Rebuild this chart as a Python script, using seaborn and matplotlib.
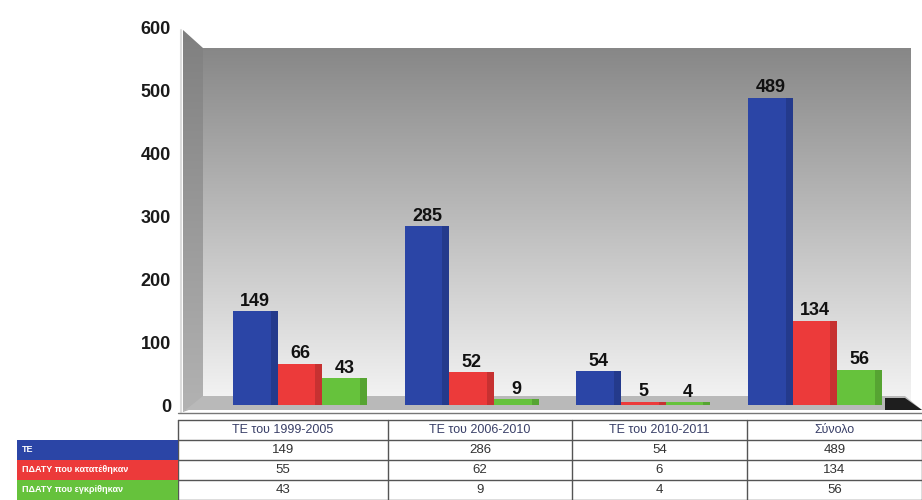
import numpy as np
import pandas as pd
import matplotlib
matplotlib.use('Agg')
import matplotlib.pyplot as plt
from matplotlib.patches import Polygon, Rectangle
from matplotlib.colors import to_rgb
import seaborn as sns

# categories / series
periods = ['ΤΕ του 1999-2005', 'ΤΕ του 2006-2010', 'ΤΕ του 2010-2011', 'Σύνολο']
series = ['ΤΕ', 'ΠΔΑΤΥ που κατατέθηκαν', 'ΠΔΑΤΥ που εγκρίθηκαν']

# bar heights as labelled above the bars
bar_te = [149, 285, 54, 489]
bar_submitted = [66, 52, 5, 134]
bar_approved = [43, 9, 4, 56]

# values printed in the table under the chart
table_te = [149, 286, 54, 489]
table_submitted = [55, 62, 6, 134]
table_approved = [43, 9, 4, 56]

yticks = [0, 100, 200, 300, 400, 500, 600]
colors = ['#2b45a6', '#ec3a3a', '#66c23c']

df = pd.DataFrame({
    'period': periods * 3,
    'series': [s for s in series for _ in periods],
    'value': bar_te + bar_submitted + bar_approved,
})

sns.set_style('white')
plt.rcParams['font.family'] = ['Liberation Sans', 'DejaVu Sans']

W, H = 922, 500
fig = plt.figure(figsize=(9.22, 5), dpi=100)

# background layer in pixel coords (wall, side wall, floor, table)
bg = fig.add_axes([0, 0, 1, 1], zorder=0)
bg.set_xlim(0, W)
bg.set_ylim(H, 0)
bg.axis('off')

grad = np.linspace(0.53, 0.96, 256)[:, None] * np.ones((1, 2))
grad = np.dstack([grad] * 3)
bg.imshow(grad, extent=(203, 910, 405, 48), origin='upper', aspect='auto', zorder=0)

side = Polygon([(183, 30), (203, 48), (203, 405), (183, 412)], closed=True,
               facecolor='none', edgecolor='none')
bg.add_patch(side)
side_grad = np.dstack([np.linspace(0.50, 0.70, 256)[:, None] * np.ones((1, 2))] * 3)
im = bg.imshow(side_grad, extent=(183, 203, 412, 30), origin='upper', aspect='auto', zorder=1)
im.set_clip_path(side)
bg.plot([181, 181], [30, 412], color='#dddddd', lw=1.5, zorder=1)

# floor
bg.add_patch(Polygon([(183, 412), (203, 396), (905, 396), (922, 410), (183, 410)],
                     closed=True, facecolor='#b9b9b9', edgecolor='none', zorder=1))
bg.add_patch(Polygon([(885, 398), (905, 398), (922, 410), (885, 410)],
                     closed=True, facecolor='#1e1e1e', edgecolor='none', zorder=1))
bg.plot([178, 922], [413, 413], color='#777777', lw=1, zorder=1)

# main bar axes
ax = fig.add_axes([203 / W, 1 - 405 / H, (910 - 203) / W, (405 - 28) / H], zorder=2)
ax.patch.set_alpha(0)
sns.barplot(data=df, x='period', y='value', hue='series', order=periods,
            hue_order=series, palette=colors, saturation=1, width=0.78,
            legend=False, ax=ax, linewidth=0, edgecolor='none')

# subtle 3D shading on the right side of each bar
for p, c in zip(ax.patches, [c for c in colors for _ in periods]):
    x, w, h = p.get_x(), p.get_width(), p.get_height()
    dark = tuple(v * 0.72 for v in to_rgb(c))
    ax.add_patch(Rectangle((x + w * 0.84, 0), w * 0.16, h, facecolor=dark,
                           edgecolor='none', alpha=0.55, zorder=3))

for cont in ax.containers:
    ax.bar_label(cont, fmt='%d', fontsize=13, fontweight='bold', padding=1,
                 color='#111111')

ax.set_xlim(-0.565, 3.553)
ax.set_ylim(0, 600)
ax.set_yticks(yticks)
ax.set_yticklabels([str(t) for t in yticks], fontweight='bold', fontsize=13,
                   color='#1a1a1a')
ax.tick_params(axis='y', length=0, pad=23)
ax.set_xticks([])
ax.set_xlabel('')
ax.set_ylabel('')
sns.despine(ax=ax, left=True, bottom=True)

# data table under the chart
col_edges = [178, 388, 572, 747, 922]
row_edges = [420, 440, 460, 480, 500]
rows = [table_te, table_submitted, table_approved]

for y in row_edges:
    bg.plot([col_edges[0], col_edges[-1]], [y, y], color='#555555', lw=1, zorder=2)
for x in col_edges:
    bg.plot([x, x], [row_edges[0], row_edges[-1]], color='#555555', lw=1, zorder=2)

for i, name in enumerate(periods):
    cx = (col_edges[i] + col_edges[i + 1]) / 2
    bg.text(cx, (row_edges[0] + row_edges[1]) / 2, name, ha='center', va='center',
            fontsize=9, color='#3a4068', zorder=3)
    for r, vals in enumerate(rows):
        cy = (row_edges[r + 1] + row_edges[r + 2]) / 2
        bg.text(cx, cy, str(vals[i]), ha='center', va='center', fontsize=9.5,
                color='#333333', zorder=3)

for r, (name, c) in enumerate(zip(series, colors)):
    y0 = row_edges[r + 1]
    bg.add_patch(Rectangle((17, y0), col_edges[0] - 17, row_edges[r + 2] - y0,
                           facecolor=c, edgecolor='none', zorder=2))
    bg.text(22, (y0 + row_edges[r + 2]) / 2, name, ha='left', va='center',
            fontsize=6.5, fontweight='bold', color='white', zorder=3)

fig.savefig('out.png', dpi=100)
